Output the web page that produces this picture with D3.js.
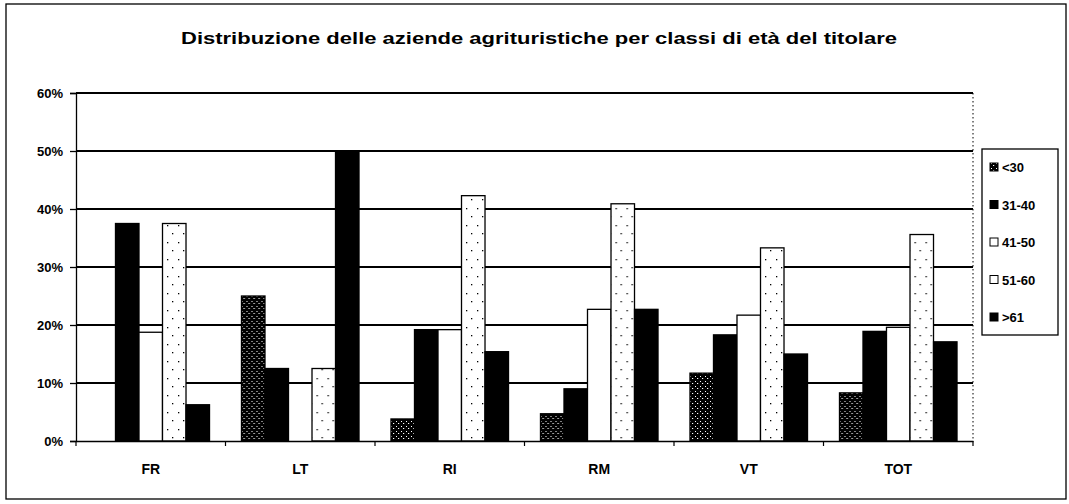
<!DOCTYPE html>
<html>
<head>
<meta charset="utf-8">
<script src="https://cdn.jsdelivr.net/npm/d3@7"></script>
<style>
  html, body { margin: 0; padding: 0; background: #fff; }
  svg { display: block; font-family: "Liberation Sans", Arial, sans-serif; }
</style>
</head>
<body>
<svg id="chart" width="1069" height="504"></svg>
<script>
// Age classes of farm-holiday holders, share of farms per province (%)
const categories = ["FR", "LT", "RI", "RM", "VT", "TOT"];
const seriesNames = ["<30", "31-40", "41-50", "51-60", ">61"];
const under30   = [0,     25,   3.8,  4.7,  11.7, 8.3];
const age31to40 = [37.5,  12.5, 19.2, 9.0,  18.3, 18.9];
const age41to50 = [18.75, 0,    19.2, 22.7, 21.7, 19.6];
const age51to60 = [37.5,  12.5, 42.3, 40.9, 33.3, 35.6];
const over61    = [6.25,  50,   15.4, 22.7, 15.0, 17.1];
const yTicks = [0, 10, 20, 30, 40, 50, 60];
const titleText = "Distribuzione delle aziende agrituristiche per classi di età del titolare";

const seriesValues = [under30, age31to40, age41to50, age51to60, over61];
const rows = categories.map((c, i) => {
  const r = { cat: c };
  seriesNames.forEach((s, k) => { r[s] = seriesValues[k][i]; });
  return r;
});

const svg = d3.select("#chart");

// fill patterns
const defs = svg.append("defs");
const dark = defs.append("pattern").attr("id", "pDark")
  .attr("patternUnits", "userSpaceOnUse").attr("width", 5).attr("height", 5);
dark.append("rect").attr("width", 5).attr("height", 5).attr("fill", "#000");
dark.append("rect").attr("x", 1).attr("y", 1).attr("width", 1).attr("height", 1).attr("fill", "#fff");
dark.append("rect").attr("x", 3).attr("y", 3).attr("width", 1.2).attr("height", 1).attr("fill", "#fff");

const light = defs.append("pattern").attr("id", "pLight")
  .attr("patternUnits", "userSpaceOnUse").attr("width", 11).attr("height", 17);
light.append("rect").attr("width", 11).attr("height", 17).attr("fill", "#fff");
light.append("rect").attr("x", 3).attr("y", 4).attr("width", 1.3).attr("height", 1.3).attr("fill", "#000");
light.append("rect").attr("x", 8).attr("y", 12).attr("width", 1.3).attr("height", 1.3).attr("fill", "#000");

const fills = {
  "<30": "url(#pDark)",
  "31-40": "#000",
  "41-50": "#fff",
  "51-60": "url(#pLight)",
  ">61": "#000"
};

// outer chart frame
svg.append("rect").attr("x", 6).attr("y", 4).attr("width", 1060).attr("height", 495)
  .attr("fill", "none").attr("stroke", "#000").attr("stroke-width", 1.3);

// title
svg.append("text").attr("x", 539).attr("y", 44)
  .attr("text-anchor", "middle").attr("font-size", 17).attr("font-weight", "bold")
  .attr("textLength", 716).attr("lengthAdjust", "spacingAndGlyphs")
  .text(titleText);

const plot = { left: 76, right: 973, top: 93, bottom: 441 };

const x0 = d3.scaleBand().domain(categories).range([plot.left, plot.right]).padding(0);
const x1 = d3.scaleBand().domain(seriesNames).range([0, x0.bandwidth()])
  .paddingInner(0).paddingOuter(0.68);
const y = d3.scaleLinear().domain([0, 60]).range([plot.bottom, plot.top]);

// gridlines
svg.append("g").selectAll("line").data(yTicks.filter(t => t > 0)).join("line")
  .attr("x1", plot.left).attr("x2", plot.right)
  .attr("y1", d => y(d)).attr("y2", d => y(d))
  .attr("stroke", "#000").attr("stroke-width", 1.8);

// plot area right edge
svg.append("line").attr("x1", plot.right).attr("x2", plot.right)
  .attr("y1", plot.top).attr("y2", plot.bottom)
  .attr("stroke", "#000").attr("stroke-width", 1).attr("stroke-dasharray", "1.5,2.5");

// bars
const groups = svg.append("g").selectAll("g").data(rows).join("g")
  .attr("transform", d => `translate(${x0(d.cat)},0)`);
groups.selectAll("rect")
  .data(d => seriesNames.map(s => ({ key: s, value: d[s] })))
  .join("rect")
  .attr("x", d => x1(d.key))
  .attr("y", d => y(d.value))
  .attr("width", x1.bandwidth())
  .attr("height", d => y(0) - y(d.value))
  .attr("fill", d => fills[d.key])
  .attr("stroke", d => d.value > 0 ? "#000" : "none")
  .attr("stroke-width", 1.3);

// y axis
const yAxis = d3.axisLeft(y).tickValues(yTicks).tickFormat(d => d + "%").tickSize(6).tickPadding(7);
const yg = svg.append("g").attr("transform", `translate(${plot.left},0)`).call(yAxis);
yg.select(".domain").attr("stroke", "#000").attr("stroke-width", 1.3);
yg.selectAll(".tick line").attr("stroke", "#000").attr("stroke-width", 1.3);
yg.selectAll(".tick text").attr("font-size", 13).attr("font-weight", "bold")
  .attr("font-family", "'Liberation Sans', Arial, sans-serif").attr("fill", "#000");

// x axis
const xAxis = d3.axisBottom(x0).tickSize(0).tickPadding(23);
const xg = svg.append("g").attr("transform", `translate(0,${plot.bottom})`).call(xAxis);
xg.select(".domain").attr("stroke", "#000").attr("stroke-width", 1.6);
xg.selectAll(".tick text").attr("font-size", 14).attr("font-weight", "bold")
  .attr("font-family", "'Liberation Sans', Arial, sans-serif").attr("fill", "#000");
// category separator ticks
const bounds = categories.map(c => x0(c)).concat([plot.right]);
xg.append("g").selectAll("line").data(bounds).join("line")
  .attr("x1", d => d).attr("x2", d => d).attr("y1", 0).attr("y2", 5)
  .attr("stroke", "#000").attr("stroke-width", 1.2);

// legend
const lg = svg.append("g").attr("transform", "translate(982,149)");
lg.append("rect").attr("width", 76).attr("height", 186)
  .attr("fill", "#fff").attr("stroke", "#000").attr("stroke-width", 1.3);
const ly = d3.scalePoint().domain(seriesNames).range([18, 168]);
const items = lg.selectAll("g.item").data(seriesNames).join("g").attr("class", "item")
  .attr("transform", d => `translate(8,${ly(d)})`);
items.append("rect").attr("x", 0).attr("y", -4).attr("width", 8).attr("height", 8)
  .attr("fill", d => fills[d]).attr("stroke", "#000").attr("stroke-width", 1);
items.append("text").attr("x", 12).attr("y", 5)
  .attr("font-size", 13).attr("font-weight", "bold").text(d => d);
</script>
</body>
</html>
